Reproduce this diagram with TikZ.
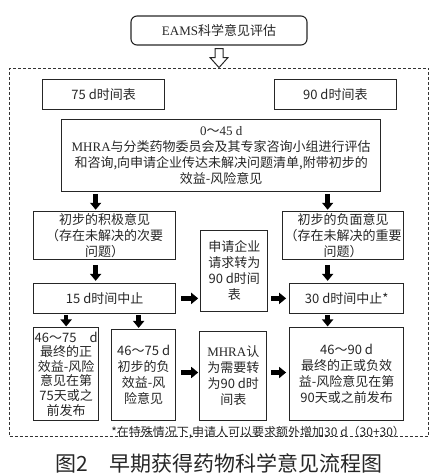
\documentclass[tikz,border=0pt]{standalone}
\usepackage{fontspec}
\setmainfont{Liberation Serif}
\newfontfamily\cjk{Noto Sans CJK SC}
\newcommand{\rom}[1]{{\rmfamily #1}}
\usetikzlibrary{positioning,arrows.meta}
\tikzset{
  % Specifications for style of nodes:
  base/.style = {
    rectangle,
    draw=black!85,
    line width=1.1pt,
    text=black!85,
    align=center,
    inner sep=0pt,
    font=\cjk\fontsize{13}{16}\selectfont
  },
  title/.style = {
    base,
    rounded corners=6pt,
    minimum width=176pt,
    minimum height=29pt
  },
  frame/.style = {
    rectangle,
    draw=black!80,
    line width=0.8pt,
    dash pattern=on 3pt off 2pt,
    minimum width=419pt,
    minimum height=368pt
  },
  period/.style = {
    base,
    minimum width=122pt,
    minimum height=30pt
  },
  opinion/.style = {
    base,
    minimum width=142pt,
    minimum height=48pt
  },
  halt/.style = {
    base,
    minimum height=30pt
  },
  result/.style = {
    base,
    minimum height=93pt
  },
  % Specifications for style of arrows:
  blk/.style = {
    draw=black,
    line width=4.5pt,
    -{Triangle[length=7pt,width=11pt]}
  },
  hollow/.style = {
    draw=black!85,
    line width=1pt,
    fill=white
  },
}

\begin{document}
\begin{tikzpicture}
    \useasboundingbox (0,0) rectangle (441pt,-476pt);
    % Specification of nodes (position, etc.)
    \node[title] (eams) at (219pt,-30.5pt) {\rom{EAMS}科学意见评估};
    \node[frame, below=22pt of eams]                                     (frame)  {};
    \node[period, below right=11pt and 33pt of frame.north west]          (t75)    {75 d时间表};
    \node[period, below left=11pt and 32pt of frame.north east]           (t90)    {90 d时间表};
    \node[base, minimum width=319pt, minimum height=72pt,
          below right=9pt and 19pt of t75.south west]                     (assess) {\rom{0}～\rom{45 d}\\\rom{MHRA}与分类药物委员会及其专家咨询小组进行评估\\和咨询,向申请企业传达未解决问题清单,附带初步的\\效益-风险意见};
    \node[opinion, below right=19pt and -28pt of assess.south west]       (pos)    {初步的积极意见\\（存在未解决的次要\\问题）};
    \node[opinion, minimum width=121pt,
          below left=19pt and -23pt of assess.south east]                 (neg)    {初步的负面意见\\（存在未解决的重要\\问题）};
    \node[base, minimum width=67pt, minimum height=81pt,
          below right=19pt and 24pt of pos.north east]                    (req)    {申请企业\\请求转为\\90 d时间\\表};
    \node[halt, minimum width=142pt, below=23pt of pos]                   (s15)    {15 d时间中止};
    \node[halt, minimum width=114pt, below left=23pt and 0pt of neg.south east] (s30) {30 d时间中止*};
    \node[result, minimum width=65pt, font=\cjk\fontsize{13}{14.6}\selectfont,
          below right=13pt and 0pt of s15.south west]                     (finA)   {46～75　d\\最终的正\\效益-风险\\意见在第\\75天或之\\前发布};
    \node[result, minimum width=64pt, minimum height=91pt,
          below left=15pt and 0pt of s15.south east]                      (preB)   {46～75 d\\初步的负\\效益-风\\险意见};
    \node[result, minimum width=67pt, minimum height=89pt,
          below right=17pt and 23pt of s15.south east]                    (mhra)   {\rom{MHRA}认\\为需要转\\为90 d时\\间表};
    \node[result, minimum width=114pt, below left=13pt and 0pt of s30.south east] (finD) {46～90 d\\最终的正或负效\\益-风险意见在第\\90天或之前发布};
    \node[font=\cjk\fontsize{12}{14}\selectfont, text=black!85, inner sep=0pt,
          below right=5pt and 0pt of preB.south west]                     (note)   {*在特殊情况下,申请人可以要求额外增加30 d（30+30）};
    \node[font=\cjk\fontsize{21}{24}\selectfont, text=black!85, inner sep=0pt,
          below=17pt of frame.south]                                      (caption) {图2　早期获得药物科学意见流程图};
    % Specification of arrows
    \draw[hollow] ([xshift=-4pt,yshift=-3pt]eams.south) -- ++(0,-9pt) -- ++(-5pt,0) -- (frame.north)
                  -- ++(9pt,10pt) -- ++(-5pt,0) -- ++(0,9pt) -- cycle;
    \draw[blk, shorten <=2pt, shorten >=1pt] ([xshift=-9pt]pos.north |- assess.south) -- ([xshift=-9pt]pos.north);
    \draw[blk, shorten <=2pt, shorten >=1pt] ([xshift=-15.5pt]neg.north |- assess.south) -- ([xshift=-15.5pt]neg.north);
    \draw[blk, shorten <=5pt, shorten >=2pt] ([xshift=-9pt]pos.south) -- ([xshift=-9pt]s15.north);
    \draw[blk, shorten <=5pt, shorten >=2pt] ([xshift=-15.5pt]neg.south) -- ([xshift=-15.5pt]neg.south |- s30.north);
    \draw[blk, shorten <=5pt, shorten >=2pt] (s15.east) -- (s15.east -| req.west);
    \draw[blk, shorten <=3pt, shorten >=3pt] (s30.west -| req.east) -- (s30.west);
    \draw[blk, shorten <=1pt, shorten >=0.5pt] (finA.north |- s15.south) -- (finA.north);
    \draw[blk, shorten <=1pt, shorten >=1pt] ([xshift=-5pt]preB.north |- s15.south) -- ([xshift=-5pt]preB.north);
    \draw[blk, shorten <=1pt, shorten >=0.5pt] ([xshift=-19pt]finD.north |- s30.south) -- ([xshift=-19pt]finD.north);
    \draw[blk, shorten <=5pt, shorten >=1pt] ([yshift=2.5pt]preB.east) -- ([yshift=2.5pt]preB.east -| mhra.west);
    \draw[blk, shorten <=4pt, shorten >=3pt] ([yshift=3.5pt]mhra.east) -- ([yshift=3.5pt]mhra.east -| finD.west);
\end{tikzpicture}
\end{document}
